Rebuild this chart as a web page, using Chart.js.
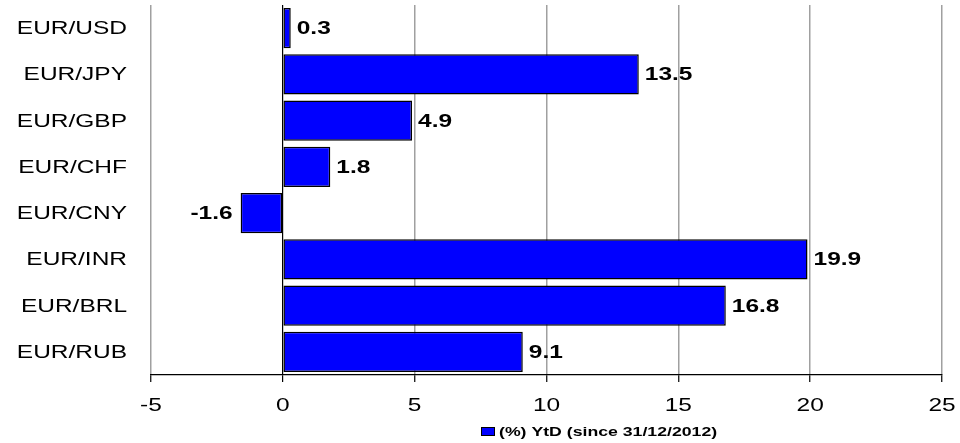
<!DOCTYPE html>
<html>
<head>
<meta charset="utf-8">
<script src="https://cdn.jsdelivr.net/npm/chart.js@4"></script>
<style>
  html, body { margin: 0; padding: 0; background: #fff; }
  #wrap { width: 960px; height: 443px; position: relative; }
</style>
</head>
<body>
<div id="wrap"><canvas id="c" width="960" height="443"></canvas></div>
<script>
// Currency pairs and year-to-date change of the euro (%)
const pairs = ['EUR/USD', 'EUR/JPY', 'EUR/GBP', 'EUR/CHF', 'EUR/CNY', 'EUR/INR', 'EUR/BRL', 'EUR/RUB'];
const ytdChange = [0.3, 13.5, 4.9, 1.8, -1.6, 19.9, 16.8, 9.1];
const seriesLabel = '(%) YtD (since 31/12/2012)';
const xTicks = [-5, 0, 5, 10, 15, 20, 25];

const FONT = '"Liberation Sans", Arial, sans-serif';
const WIDE = 1.36; // horizontal stretch of the lettering

// Text drawn with a wide, stretched look
function wideText(ctx, text, x, y, align) {
  ctx.save();
  ctx.translate(x, y);
  ctx.scale(WIDE, 1);
  ctx.textAlign = align;
  ctx.textBaseline = 'middle';
  ctx.fillText(text, 0, 0);
  ctx.restore();
}

// Category labels, axis tick labels, value labels and legend
const textLayer = {
  id: 'textLayer',
  afterDraw(chart) {
    const ctx = chart.ctx;
    const xs = chart.scales.x;
    const ys = chart.scales.y;
    ctx.save();
    ctx.fillStyle = '#000';

    ctx.font = '18px ' + FONT;
    pairs.forEach((p, i) => {
      wideText(ctx, p, 127, ys.getPixelForValue(i) + 1, 'right');
    });

    ctx.font = '18px ' + FONT;
    xTicks.forEach(v => {
      wideText(ctx, String(v), xs.getPixelForValue(v), 406, 'center');
    });

    ctx.font = 'bold 18px ' + FONT;
    const meta = chart.getDatasetMeta(0);
    meta.data.forEach((bar, i) => {
      const v = ytdChange[i];
      if (v >= 0) {
        wideText(ctx, v.toFixed(1), bar.x + 6, bar.y + 1, 'left');
      } else {
        wideText(ctx, v.toFixed(1), bar.x - 8, bar.y + 1, 'right');
      }
    });

    // legend
    const x0 = 481, y0 = 431;
    ctx.fillStyle = '#0000ff';
    ctx.fillRect(x0, y0 - 4, 13, 8);
    ctx.strokeStyle = '#000';
    ctx.lineWidth = 1;
    ctx.strokeRect(x0 + 0.5, y0 - 4 + 0.5, 13, 8);
    ctx.fillStyle = '#000';
    ctx.font = 'bold 13px ' + FONT;
    wideText(ctx, chart.data.datasets[0].label, x0 + 18, y0 + 1, 'left');
    ctx.restore();
  }
};

new Chart(document.getElementById('c'), {
  type: 'bar',
  data: {
    labels: pairs,
    datasets: [{
      label: seriesLabel,
      data: ytdChange,
      backgroundColor: '#0000ff',
      borderColor: '#000',
      borderWidth: 1.5,
      borderSkipped: false,
      categoryPercentage: 0.87,
      barPercentage: 1.0
    }]
  },
  options: {
    indexAxis: 'y',
    responsive: false,
    animation: false,
    devicePixelRatio: 1,
    layout: { padding: { top: 5, right: 18, bottom: 0, left: 0 } },
    plugins: {
      legend: { display: false },
      tooltip: { enabled: false }
    },
    scales: {
      x: {
        min: -5,
        max: 25,
        afterBuildTicks(scale) {
          scale.ticks = xTicks.map(v => ({ value: v }));
        },
        afterFit(scale) {
          scale.height = 68;
          scale.paddingLeft = 0;
          scale.paddingRight = 0;
        },
        grid: {
          color: ctx => (ctx.tick && ctx.tick.value === 0) ? '#000' : '#a0a0a0',
          lineWidth: ctx => (ctx.tick && ctx.tick.value === 0) ? 1.2 : 1.5,
          drawTicks: true,
          tickLength: 7,
          tickColor: '#000',
          tickWidth: 1.2
        },
        border: { display: true, color: '#000', width: 1.2 },
        ticks: { display: false }
      },
      y: {
        afterFit(scale) {
          scale.width = 151;
          scale.paddingTop = 0;
          scale.paddingBottom = 0;
        },
        grid: { display: false, drawTicks: false },
        border: { display: false },
        ticks: { display: false }
      }
    }
  },
  plugins: [textLayer]
});
</script>
</body>
</html>
